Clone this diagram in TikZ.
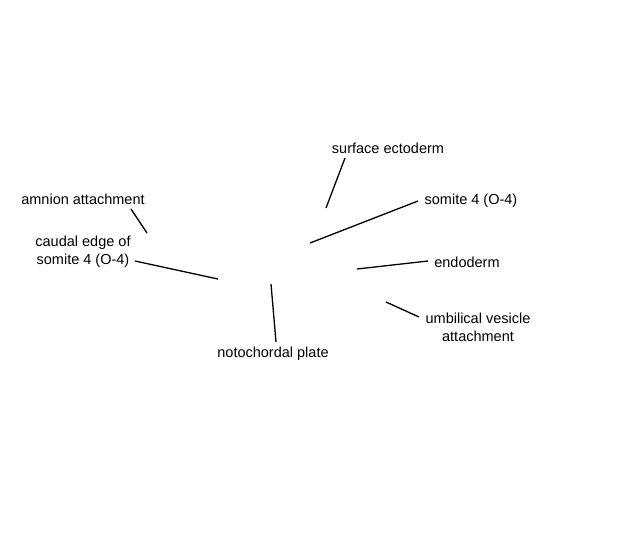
\documentclass[tikz,border=0pt]{standalone}
\usepackage{fontspec}
\setmainfont{Liberation Sans}
\usetikzlibrary{positioning}

\begin{document}
\begin{tikzpicture}[x=1pt, y=-1pt,
    label/.style={inner sep=0pt, align=center, font=\fontsize{14.5}{18}\selectfont},
    pointer/.style={line width=1.3pt}]
    \useasboundingbox (0,0) rectangle (620,550);

    \node (amnion) [label] at (83,199) {amnion attachment};
    \node (caudal) [label] at (83,252) {caudal edge of\\somite 4 (O-4)};
    \node (noto) [label] at (273,354) {notochordal plate};
    \node (surface) [label] at (388,148) {surface ectoderm};
    \node (somite) [label] at (471,201) {somite 4 (O-4)};
    \node (endo) [label] at (467,262) {endoderm};
    \node (umbil) [label] at (478,327.5) {umbilical vesicle\\attachment};

    \coordinate (amnionA) at (131,209);  \coordinate (amnionB) at (147,233);
    \coordinate (caudalA) at (135,261);  \coordinate (caudalB) at (218,279);
    \coordinate (notoA) at (276,342);    \coordinate (notoB) at (271,284);
    \coordinate (surfaceA) at (345,158); \coordinate (surfaceB) at (326,208);
    \coordinate (somiteA) at (418,201);  \coordinate (somiteB) at (310,243);
    \coordinate (endoA) at (428,261);    \coordinate (endoB) at (357,269);
    \coordinate (umbilA) at (419,317);   \coordinate (umbilB) at (386,302);

    \draw (amnionA) [pointer] -- (amnionB);
    \draw (caudalA) [pointer] -- (caudalB);
    \draw (notoA) [pointer] -- (notoB);
    \draw (surfaceA) [pointer] -- (surfaceB);
    \draw (somiteA) [pointer] -- (somiteB);
    \draw (endoA) [pointer] -- (endoB);
    \draw (umbilA) [pointer] -- (umbilB);
\end{tikzpicture}
\end{document}
